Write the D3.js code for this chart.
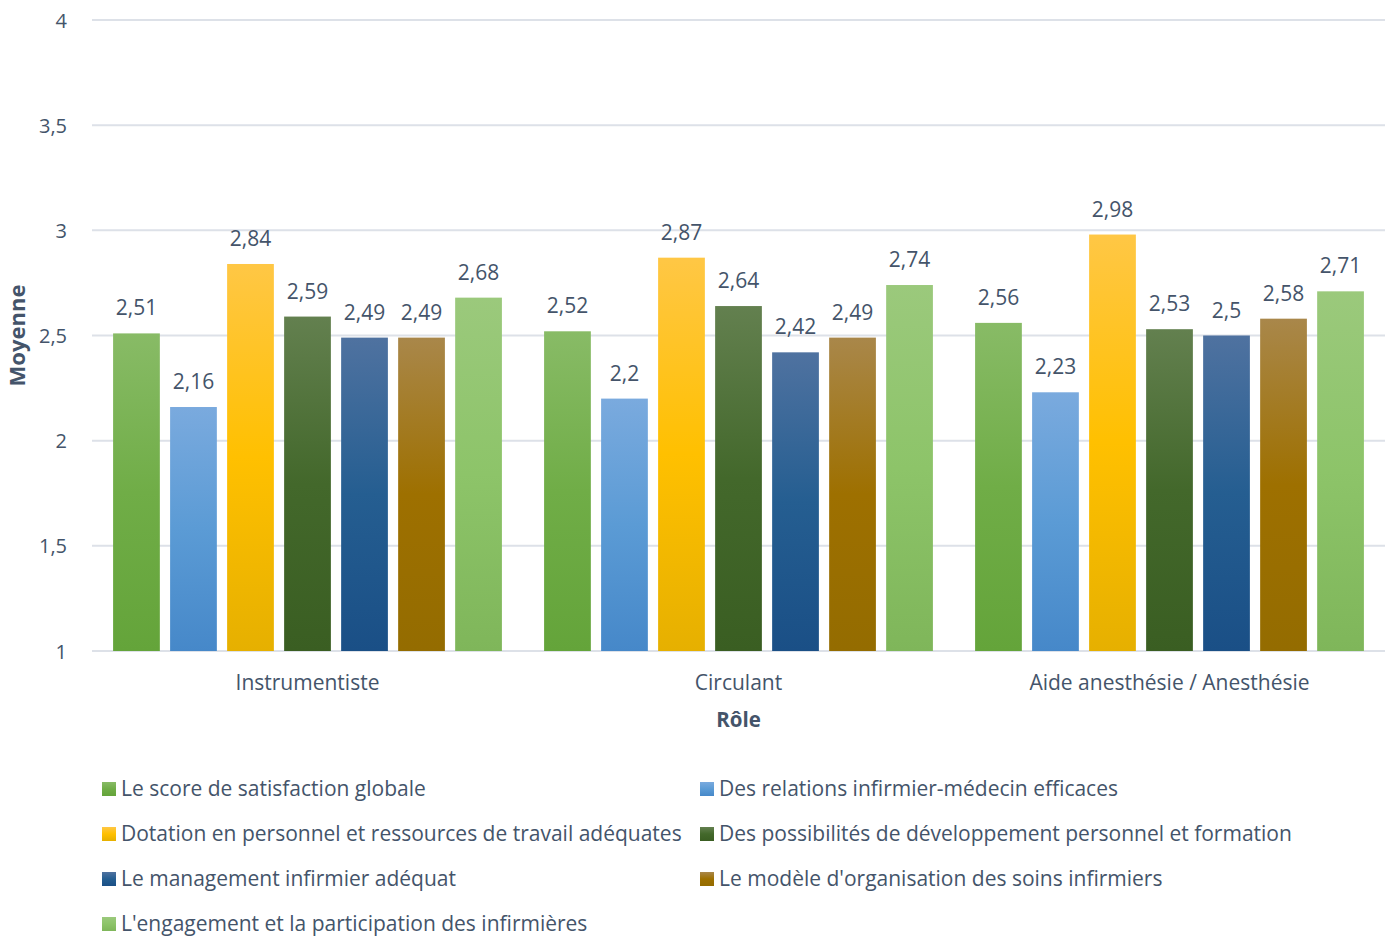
<!DOCTYPE html>
<html>
<head>
<meta charset="utf-8">
<script src="https://cdn.jsdelivr.net/npm/d3@7"></script>
<style>
  body { margin: 0; background: #fff; }
  svg text { font-family: "Open Sans", "Noto Sans", sans-serif; fill: #44546a; }
</style>
</head>
<body>
<div id="okvir"></div>
<script>
const roles = ["Instrumentiste", "Circulant", "Aide anesthésie / Anesthésie"]
const series = [
  "Le score de satisfaction globale",
  "Des relations infirmier-médecin efficaces",
  "Dotation en personnel et ressources de travail adéquates",
  "Des possibilités de développement personnel et formation",
  "Le management infirmier adéquat",
  "Le modèle d'organisation des soins infirmiers",
  "L'engagement et la participation des infirmières"
]
const instrumentiste = [2.51, 2.16, 2.84, 2.59, 2.49, 2.49, 2.68]
const circulant = [2.52, 2.2, 2.87, 2.64, 2.42, 2.49, 2.74]
const anesthesie = [2.56, 2.23, 2.98, 2.53, 2.5, 2.58, 2.71]
const yTicks = [1, 1.5, 2, 2.5, 3, 3.5, 4]
// gradient stops per series: top, middle, bottom
const boje = [
  ["#88bb66", "#70ad47", "#64a43a"],
  ["#7aaade", "#5b9bd5", "#4688c9"],
  ["#ffc745", "#ffc000", "#e6b000"],
  ["#63804f", "#43682b", "#3a5e22"],
  ["#4f72a0", "#255e91", "#1a4f86"],
  ["#a9874a", "#9e7000", "#946c00"],
  ["#9bc97c", "#8dc469", "#7fb65a"]
]

const vrijednosti = [instrumentiste, circulant, anesthesie]

const dim = { sirina: 1395, visina: 936, left: 92, right: 1385, top: 20, bottom: 651 }

const okvir = d3.select("#okvir").append("svg")
  .attr("width", dim.sirina)
  .attr("height", dim.visina)

const defs = okvir.append("defs")
boje.forEach((b, i) => {
  const g = defs.append("linearGradient")
    .attr("id", "grad" + i)
    .attr("x1", 0).attr("y1", 0).attr("x2", 0).attr("y2", 1)
  g.append("stop").attr("offset", "0%").attr("stop-color", b[0])
  g.append("stop").attr("offset", "50%").attr("stop-color", b[1])
  g.append("stop").attr("offset", "100%").attr("stop-color", b[2])
})

const fmt = v => String(v).replace(".", ",")

const xSkala = d3.scaleBand()
  .domain(roles)
  .range([dim.left, dim.right])

const x1Skala = d3.scaleBand()
  .domain(d3.range(series.length))
  .range([0, xSkala.bandwidth()])
  .paddingInner(0.18)
  .paddingOuter(0.37)

const ySkala = d3.scaleLinear()
  .domain([1, 4])
  .range([dim.bottom, dim.top])

// grid
okvir.append("g")
  .selectAll("line")
  .data(yTicks)
  .join("line")
  .attr("x1", dim.left)
  .attr("x2", dim.right)
  .attr("y1", d => ySkala(d))
  .attr("y2", d => ySkala(d))
  .attr("stroke", "#dde1e8")
  .attr("stroke-width", 2)

// y axis labels
const yOs = okvir.append("g")
  .attr("transform", `translate(${dim.left - 22},0)`)
  .call(d3.axisLeft(ySkala).tickValues(yTicks).tickSize(0).tickFormat(fmt))
yOs.select(".domain").remove()
yOs.selectAll("text")
  .style("font-size", "20px")
  .attr("dy", "0.35em")
  .attr("fill", null)

okvir.append("text")
  .attr("transform", `translate(25,${(dim.top + dim.bottom) / 2}) rotate(-90)`)
  .attr("text-anchor", "middle")
  .style("font-size", "22px")
  .style("font-weight", "bold")
  .text("Moyenne")

// bars
const grupe = okvir.append("g")
  .selectAll("g")
  .data(roles)
  .join("g")
  .attr("transform", d => `translate(${xSkala(d)},0)`)

grupe.selectAll("rect")
  .data((d, i) => vrijednosti[i].map((v, j) => ({ v, j })))
  .join("rect")
  .attr("x", d => x1Skala(d.j))
  .attr("width", x1Skala.bandwidth())
  .attr("y", d => ySkala(d.v))
  .attr("height", d => ySkala(1) - ySkala(d.v))
  .attr("fill", d => `url(#grad${d.j})`)

grupe.selectAll("text")
  .data((d, i) => vrijednosti[i].map((v, j) => ({ v, j })))
  .join("text")
  .attr("x", d => x1Skala(d.j) + x1Skala.bandwidth() / 2)
  .attr("y", d => ySkala(d.v) - 18)
  .attr("text-anchor", "middle")
  .style("font-size", "21px")
  .text(d => fmt(d.v))

// x axis labels
okvir.append("g")
  .selectAll("text")
  .data(roles)
  .join("text")
  .attr("x", d => xSkala(d) + xSkala.bandwidth() / 2)
  .attr("y", 690)
  .attr("text-anchor", "middle")
  .style("font-size", "21px")
  .text(d => d)

okvir.append("text")
  .attr("x", (dim.left + dim.right) / 2)
  .attr("y", 727)
  .attr("text-anchor", "middle")
  .style("font-size", "20.5px")
  .style("font-weight", "bold")
  .text("Rôle")

// legend
const legenda = okvir.append("g")
  .selectAll("g")
  .data(series)
  .join("g")
  .attr("transform", (d, i) => `translate(${i % 2 === 0 ? 102 : 700},${789 + Math.floor(i / 2) * 45})`)

legenda.append("rect")
  .attr("x", 0)
  .attr("y", -7)
  .attr("width", 14)
  .attr("height", 14)
  .attr("fill", (d, i) => `url(#grad${i})`)

legenda.append("text")
  .attr("x", 19)
  .attr("y", 0)
  .attr("dy", "0.35em")
  .style("font-size", "21px")
  .text(d => d)
</script>
</body>
</html>
